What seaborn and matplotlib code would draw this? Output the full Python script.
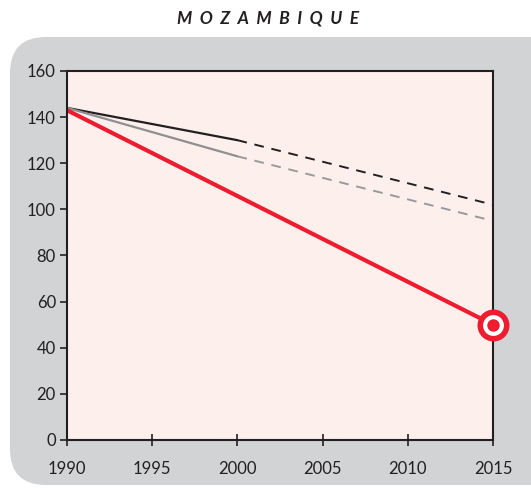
import matplotlib
matplotlib.use("Agg")
import matplotlib.pyplot as plt
import seaborn as sns
import pandas as pd
from matplotlib.patches import FancyBboxPatch

years_actual = [1990, 2000]
black_actual = [144, 130]
gray_actual = [144, 123]
years_proj = [2000, 2015]
black_proj = [130, 102]
gray_proj = [123, 95]
red_years = [1990, 2015]
red_values = [143, 50]
target_year = [2015]
target_value = [50]

xticks = [1990, 1995, 2000, 2005, 2010, 2015]
yticks = [0, 20, 40, 60, 80, 100, 120, 140, 160]

sns.set_theme(style="white")
plt.rcParams['font.family'] = ['Lato', 'DejaVu Sans']

W, H = 531, 491
fig = plt.figure(figsize=(W / 100, H / 100), dpi=100)

bg = fig.add_axes([0, 0, 1, 1], zorder=-10)
bg.set_xlim(0, W)
bg.set_ylim(H, 0)
bg.axis("off")
r = 36
panel = FancyBboxPatch((10 + r, 37 + r), 600 - 2 * r, 448 - 2 * r,
                       boxstyle=f"round,pad={r},rounding_size={r}",
                       facecolor="#d1d3d4", edgecolor="none")
bg.add_patch(panel)

ax = fig.add_axes([0.1262, 0.1039, 0.8023, 0.7515], zorder=1)
ax.set_facecolor("#fdf0ec")

sns.lineplot(x=years_actual, y=black_actual, ax=ax, color="#231f20", lw=1.6)
sns.lineplot(x=years_actual, y=gray_actual, ax=ax, color="#8f8f8f", lw=1.6)
sns.lineplot(x=years_proj, y=black_proj, ax=ax, color="#231f20", lw=1.4, linestyle=(0, (5, 4)))
sns.lineplot(x=years_proj, y=gray_proj, ax=ax, color="#9a9a9a", lw=1.4, linestyle=(0, (5, 4)))
sns.lineplot(x=red_years, y=red_values, ax=ax, color="#ed1c2e", lw=3)

ax.scatter(target_year, target_value, s=530, color="#ed1c2e", zorder=5, clip_on=False, linewidths=0)
ax.scatter(target_year, target_value, s=225, color="white", zorder=6, clip_on=False, linewidths=0)
ax.scatter(target_year, target_value, s=80, color="#ed1c2e", zorder=7, clip_on=False, linewidths=0)

ax.set_xlim(1990, 2015)
ax.set_ylim(0, 160)
ax.set_xticks(xticks)
ax.set_yticks(yticks)
ax.tick_params(axis='x', direction='inout', length=8, width=1.2, color="#231f20",
               labelsize=12, labelcolor="#231f20", pad=11, bottom=True)
ax.tick_params(axis='y', direction='out', length=5, width=1.2, color="#231f20",
               labelsize=12, labelcolor="#231f20", pad=3, left=True)
for s in ax.spines.values():
    s.set_color("#231f20")
    s.set_linewidth(1.5)
ax.set_xlabel("")
ax.set_ylabel("")

fig.text(0.505, 0.962, "M  O  Z  A  M  B  I  Q  U  E", ha="center", va="center",
         fontsize=12.5, fontstyle="italic", fontweight="bold", color="#231f20")

fig.savefig("out.png", dpi=100)
